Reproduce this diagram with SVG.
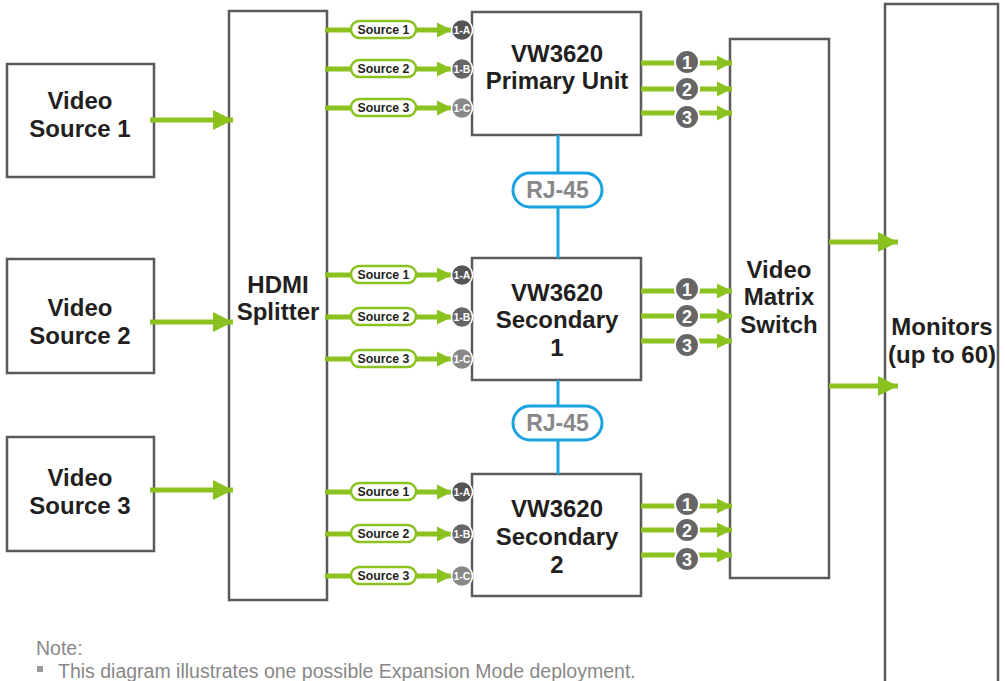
<svg xmlns="http://www.w3.org/2000/svg" width="1005" height="681" viewBox="0 0 1005 681">
<style>
.box{fill:#fff;stroke:#5a5a5a;stroke-width:2.5}
.t{font-family:"Liberation Sans",Arial,sans-serif;font-weight:bold;font-size:24px;fill:#231f20;text-anchor:middle}
.g{stroke:#8bc220;stroke-width:5;fill:none}
.pill{fill:#fff;stroke:#8bc220;stroke-width:2.5}
.pt{font-family:"Liberation Sans",Arial,sans-serif;font-weight:bold;font-size:12.3px;fill:#231f20;text-anchor:middle}
.ct{font-family:"Liberation Sans",Arial,sans-serif;font-weight:bold;font-size:10.5px;fill:#fff;text-anchor:middle}
.nt{font-family:"Liberation Sans",Arial,sans-serif;font-weight:bold;font-size:18px;fill:#fff;text-anchor:middle}
.num{fill:#666;stroke:#fff;stroke-width:2}
.rj{fill:#fff;stroke:#1aa3e0;stroke-width:3}
.rjt{font-family:"Liberation Sans",Arial,sans-serif;font-weight:bold;font-size:23px;fill:#888;text-anchor:middle}
.bl{stroke:#1aa3e0;stroke-width:3}
.note{font-family:"Liberation Sans",Arial,sans-serif;font-size:19.5px;fill:#888}
</style>
<defs>
<marker id="big" viewBox="0 0 10 10" refX="10" refY="5" markerWidth="20" markerHeight="20" markerUnits="userSpaceOnUse" orient="auto"><path d="M0,0 L10,5 L0,10 z" fill="#8bc220"/></marker>
<marker id="sm" viewBox="0 0 10 10" refX="10" refY="5" markerWidth="15" markerHeight="16" markerUnits="userSpaceOnUse" orient="auto"><path d="M0,0 L10,5 L0,10 z" fill="#8bc220"/></marker>
</defs>

<g id="monitors"><rect class="box" x="885" y="4" width="113" height="690"/><text class="t" x="942" y="335">Monitors</text><text class="t" x="942" y="363">(up to 60)</text></g>
<g id="src1"><rect class="box" x="7" y="64" width="147" height="113"/><text class="t" x="80" y="109">Video</text><text class="t" x="80" y="137">Source 1</text></g>
<g id="src2"><rect class="box" x="7" y="259" width="147" height="114"/><text class="t" x="80" y="316">Video</text><text class="t" x="80" y="344">Source 2</text></g>
<g id="src3"><rect class="box" x="7" y="437" width="147" height="114"/><text class="t" x="80" y="486">Video</text><text class="t" x="80" y="514">Source 3</text></g>
<g id="splitter"><rect class="box" x="229" y="11" width="98" height="589"/><text class="t" x="278" y="293">HDMI</text><text class="t" x="278" y="320">Splitter</text></g>
<g id="primary"><rect class="box" x="472" y="12" width="169" height="123"/><text class="t" x="557" y="62">VW3620</text><text class="t" x="557" y="89">Primary Unit</text></g>
<g id="secondary1"><rect class="box" x="472" y="258" width="169" height="122"/><text class="t" x="557" y="301">VW3620</text><text class="t" x="557" y="328">Secondary</text><text class="t" x="557" y="356">1</text></g>
<g id="secondary2"><rect class="box" x="472" y="474" width="169" height="122"/><text class="t" x="557" y="517">VW3620</text><text class="t" x="557" y="545">Secondary</text><text class="t" x="557" y="573">2</text></g>
<g id="matrix"><rect class="box" x="730" y="39" width="99" height="539"/><text class="t" x="779" y="278">Video</text><text class="t" x="779" y="305">Matrix</text><text class="t" x="779" y="333">Switch</text></g>

<g id="connectors">
<path class="g" d="M150,120 H233" marker-end="url(#big)"/>
<path class="g" d="M150,322 H233" marker-end="url(#big)"/>
<path class="g" d="M150,490 H233" marker-end="url(#big)"/>
<path class="g" d="M829,242 H898" marker-end="url(#big)"/>
<path class="g" d="M829,386 H898" marker-end="url(#big)"/>

<line class="bl" x1="558" y1="135" x2="558" y2="258"/>
<line class="bl" x1="558" y1="380" x2="558" y2="474"/>
<g><rect class="rj" x="513" y="173" width="89" height="34" rx="17"/><text class="rjt" x="557.5" y="198">RJ-45</text></g>
<g><rect class="rj" x="513" y="406" width="89" height="34" rx="17"/><text class="rjt" x="557.5" y="431">RJ-45</text></g>

<g>
<path class="g" d="M325,30 H452" marker-end="url(#sm)"/><rect class="pill" x="351" y="21" width="65" height="17" rx="8.5"/><text class="pt" x="383.5" y="34">Source 1</text><circle cx="462" cy="30" r="10.5" fill="#555" stroke="#fff" stroke-width="1.5"/><text class="ct" x="462" y="33.7">1-A</text>
<path class="g" d="M325,69 H452" marker-end="url(#sm)"/><rect class="pill" x="351" y="60" width="65" height="17" rx="8.5"/><text class="pt" x="383.5" y="73">Source 2</text><circle cx="462" cy="69" r="10.5" fill="#666" stroke="#fff" stroke-width="1.5"/><text class="ct" x="462" y="72.7">1-B</text>
<path class="g" d="M325,108 H452" marker-end="url(#sm)"/><rect class="pill" x="351" y="99" width="65" height="17" rx="8.5"/><text class="pt" x="383.5" y="112">Source 3</text><circle cx="462" cy="108" r="10.5" fill="#888" stroke="#fff" stroke-width="1.5"/><text class="ct" x="462" y="111.7">1-C</text>
</g>
<g>
<path class="g" d="M325,275 H452" marker-end="url(#sm)"/><rect class="pill" x="351" y="266" width="65" height="17" rx="8.5"/><text class="pt" x="383.5" y="279">Source 1</text><circle cx="462" cy="275" r="10.5" fill="#555" stroke="#fff" stroke-width="1.5"/><text class="ct" x="462" y="278.7">1-A</text>
<path class="g" d="M325,317 H452" marker-end="url(#sm)"/><rect class="pill" x="351" y="308" width="65" height="17" rx="8.5"/><text class="pt" x="383.5" y="321">Source 2</text><circle cx="462" cy="317" r="10.5" fill="#666" stroke="#fff" stroke-width="1.5"/><text class="ct" x="462" y="320.7">1-B</text>
<path class="g" d="M325,359 H452" marker-end="url(#sm)"/><rect class="pill" x="351" y="350" width="65" height="17" rx="8.5"/><text class="pt" x="383.5" y="363">Source 3</text><circle cx="462" cy="359" r="10.5" fill="#888" stroke="#fff" stroke-width="1.5"/><text class="ct" x="462" y="362.7">1-C</text>
</g>
<g>
<path class="g" d="M325,492 H452" marker-end="url(#sm)"/><rect class="pill" x="351" y="483" width="65" height="17" rx="8.5"/><text class="pt" x="383.5" y="496">Source 1</text><circle cx="462" cy="492" r="10.5" fill="#555" stroke="#fff" stroke-width="1.5"/><text class="ct" x="462" y="495.7">1-A</text>
<path class="g" d="M325,534 H452" marker-end="url(#sm)"/><rect class="pill" x="351" y="525" width="65" height="17" rx="8.5"/><text class="pt" x="383.5" y="538">Source 2</text><circle cx="462" cy="534" r="10.5" fill="#666" stroke="#fff" stroke-width="1.5"/><text class="ct" x="462" y="537.7">1-B</text>
<path class="g" d="M325,576 H452" marker-end="url(#sm)"/><rect class="pill" x="351" y="567" width="65" height="17" rx="8.5"/><text class="pt" x="383.5" y="580">Source 3</text><circle cx="462" cy="576" r="10.5" fill="#888" stroke="#fff" stroke-width="1.5"/><text class="ct" x="462" y="579.7">1-C</text>
</g>

<g>
<path class="g" d="M641,63 H732" marker-end="url(#sm)"/><circle class="num" cx="687" cy="62" r="12"/><text class="nt" x="687" y="68.5">1</text>
<path class="g" d="M641,89 H732" marker-end="url(#sm)"/><circle class="num" cx="687" cy="89" r="12"/><text class="nt" x="687" y="95.5">2</text>
<path class="g" d="M641,113 H732" marker-end="url(#sm)"/><circle class="num" cx="687" cy="117" r="12"/><text class="nt" x="687" y="123.5">3</text>
</g>
<g>
<path class="g" d="M641,291 H732" marker-end="url(#sm)"/><circle class="num" cx="687" cy="289" r="12"/><text class="nt" x="687" y="295.5">1</text>
<path class="g" d="M641,316 H732" marker-end="url(#sm)"/><circle class="num" cx="687" cy="316" r="12"/><text class="nt" x="687" y="322.5">2</text>
<path class="g" d="M641,341 H732" marker-end="url(#sm)"/><circle class="num" cx="687" cy="345" r="12"/><text class="nt" x="687" y="351.5">3</text>
</g>
<g>
<path class="g" d="M641,506 H732" marker-end="url(#sm)"/><circle class="num" cx="687" cy="504" r="12"/><text class="nt" x="687" y="510.5">1</text>
<path class="g" d="M641,530 H732" marker-end="url(#sm)"/><circle class="num" cx="687" cy="530" r="12"/><text class="nt" x="687" y="536.5">2</text>
<path class="g" d="M641,555 H732" marker-end="url(#sm)"/><circle class="num" cx="687" cy="559" r="12"/><text class="nt" x="687" y="565.5">3</text>
</g>
</g>

<g id="note">
<text class="note" x="36" y="655">Note:</text>
<rect x="37" y="666" width="6" height="6" fill="#999"/>
<text class="note" x="58" y="678">This diagram illustrates one possible Expansion Mode deployment.</text>
</g>
</svg>
